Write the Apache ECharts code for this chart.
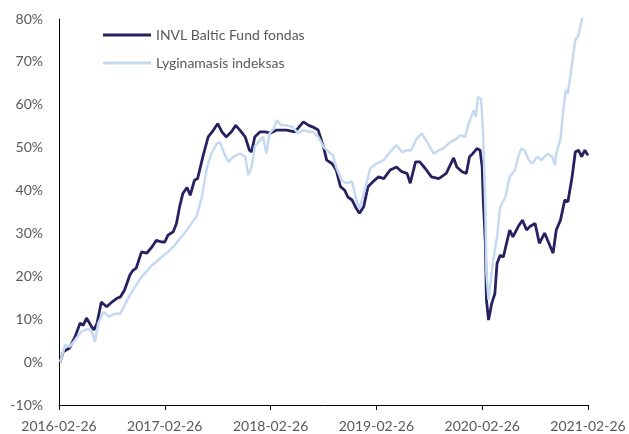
<!DOCTYPE html>
<html>
<head>
<meta charset="utf-8">
<script src="https://cdn.jsdelivr.net/npm/echarts@6/dist/echarts.min.js"></script>
<style>
  html, body { margin: 0; padding: 0; background: #fff; }
  #chart { width: 629px; height: 434px; }
</style>
</head>
<body>
<div id="chart"></div>
<script>
// x = metai nuo 2016-02-26, y = grąža %
var fundYears = [0.01, 0.04, 0.10, 0.15, 0.20, 0.23, 0.26, 0.31, 0.33, 0.36, 0.40, 0.45, 0.50, 0.55, 0.58, 0.62, 0.67, 0.70, 0.73, 0.78, 0.83, 0.88, 0.92, 0.97, 1.00, 1.03, 1.08, 1.11, 1.14, 1.17, 1.21, 1.24, 1.28, 1.31, 1.36, 1.41, 1.46, 1.50, 1.54, 1.58, 1.63, 1.67, 1.71, 1.76, 1.80, 1.82, 1.85, 1.90, 1.95, 2.00, 2.06, 2.15, 2.23, 2.31, 2.36, 2.40, 2.45, 2.50, 2.53, 2.58, 2.62, 2.66, 2.70, 2.73, 2.77, 2.81, 2.84, 2.88, 2.92, 2.97, 3.02, 3.07, 3.13, 3.19, 3.24, 3.29, 3.32, 3.37, 3.41, 3.46, 3.52, 3.59, 3.66, 3.73, 3.76, 3.81, 3.85, 3.88, 3.91, 3.95, 3.98, 4.00, 4.01, 4.03, 4.04, 4.06, 4.09, 4.12, 4.14, 4.17, 4.20, 4.23, 4.26, 4.29, 4.34, 4.38, 4.42, 4.45, 4.50, 4.54, 4.59, 4.67, 4.70, 4.74, 4.78, 4.81, 4.85, 4.88, 4.91, 4.94, 4.97, 5.00]
var fundValues = [0, 2.4, 3.3, 5.8, 9.1, 8.6, 10.3, 8.2, 7.5, 9.1, 14.0, 12.9, 14.0, 14.9, 15.2, 16.8, 20.3, 21.4, 21.9, 25.7, 25.4, 26.9, 28.4, 28.0, 28.0, 29.6, 30.4, 32.3, 36.2, 39.3, 40.7, 38.9, 42.4, 42.8, 47.9, 52.5, 54.1, 55.6, 53.7, 52.5, 53.7, 55.2, 54.1, 52.5, 49.4, 49.0, 52.5, 53.7, 53.7, 53.4, 54.1, 54.1, 53.7, 56.0, 55.2, 54.8, 54.1, 50.2, 47.1, 46.3, 44.8, 40.9, 40.1, 38.5, 37.8, 35.8, 34.7, 36.2, 40.9, 42.1, 43.2, 42.8, 44.8, 45.5, 44.4, 44.0, 41.7, 46.7, 46.7, 45.2, 43.2, 42.8, 44.0, 47.6, 45.5, 44.4, 44.0, 47.9, 48.6, 49.8, 49.4, 45.5, 37.8, 27.7, 14.5, 9.8, 13.7, 16.0, 23.0, 24.9, 24.5, 27.7, 30.8, 29.2, 31.6, 33.1, 30.8, 31.6, 32.3, 27.7, 30.1, 25.4, 30.8, 33.1, 37.8, 37.4, 43.2, 49.0, 49.4, 47.9, 49.4, 48.2]

var indexYears = [0.01, 0.06, 0.10, 0.15, 0.21, 0.28, 0.31, 0.34, 0.37, 0.42, 0.47, 0.53, 0.58, 0.62, 0.67, 0.72, 0.77, 0.81, 0.88, 0.92, 0.97, 1.03, 1.08, 1.13, 1.17, 1.21, 1.25, 1.30, 1.35, 1.40, 1.44, 1.49, 1.52, 1.57, 1.60, 1.65, 1.71, 1.76, 1.79, 1.82, 1.85, 1.90, 1.93, 1.96, 1.99, 2.03, 2.06, 2.10, 2.15, 2.21, 2.26, 2.31, 2.36, 2.40, 2.45, 2.50, 2.55, 2.59, 2.62, 2.67, 2.72, 2.77, 2.81, 2.84, 2.89, 2.94, 3.00, 3.07, 3.13, 3.19, 3.24, 3.29, 3.33, 3.38, 3.43, 3.48, 3.54, 3.59, 3.63, 3.70, 3.76, 3.79, 3.84, 3.87, 3.92, 3.94, 3.96, 3.99, 4.01, 4.03, 4.04, 4.06, 4.10, 4.14, 4.17, 4.22, 4.26, 4.31, 4.34, 4.37, 4.40, 4.44, 4.47, 4.52, 4.56, 4.59, 4.62, 4.66, 4.69, 4.70, 4.74, 4.77, 4.79, 4.81, 4.85, 4.88, 4.91, 4.92, 4.94, 4.96]
var indexValues = [0, 4.0, 3.6, 5.1, 7.1, 7.8, 7.1, 4.7, 9.0, 11.7, 10.6, 11.3, 11.3, 13.3, 15.6, 17.6, 19.5, 20.7, 22.6, 23.4, 24.5, 25.7, 26.9, 28.4, 29.6, 30.8, 32.3, 33.9, 38.5, 45.5, 48.6, 50.9, 51.3, 48.2, 46.7, 47.9, 48.6, 47.9, 43.6, 45.5, 50.2, 51.7, 52.5, 48.6, 53.3, 54.5, 56.4, 55.2, 55.2, 54.8, 53.3, 54.1, 53.7, 53.7, 52.5, 50.2, 49.0, 48.2, 45.5, 42.4, 41.7, 42.1, 37.8, 35.8, 40.1, 45.1, 46.3, 47.1, 49.0, 50.6, 49.0, 49.4, 49.4, 52.1, 53.3, 51.3, 48.6, 49.4, 49.8, 51.3, 52.1, 52.9, 52.5, 55.5, 58.7, 57.2, 61.8, 61.4, 52.5, 35.4, 20.7, 14.5, 23.0, 29.2, 36.2, 38.5, 43.2, 44.8, 47.9, 49.8, 49.4, 47.1, 46.3, 47.9, 47.1, 47.9, 48.6, 47.9, 45.9, 48.6, 52.1, 59.5, 63.4, 62.6, 69.7, 75.1, 76.2, 75.8, 79.7, 82.0]

function pairs (xs, ys) {
  var out = []
  for (var i = 0; i < xs.length; i++) {
    out.push([xs[i], ys[i]])
  }
  return out
}

var chart = echarts.init(document.getElementById('chart'))
chart.setOption({
  animation: false,
  textStyle: { fontFamily: 'Lato' },
  legend: {
    orient: 'vertical',
    left: 98,
    top: 22,
    icon: 'rect',
    itemWidth: 48,
    itemHeight: 3,
    itemGap: 12,
    textStyle: { color: '#595959', fontSize: 14, lineHeight: 16 },
    data: ['INVL Baltic Fund fondas', 'Lyginamasis indeksas']
  },
  grid: { left: 59, right: 41, top: 19, bottom: 29 },
  xAxis: {
    type: 'value',
    min: 0,
    max: 5,
    interval: 1,
    splitLine: { show: false },
    axisLine: { onZero: false, lineStyle: { color: '#000', width: 1 } },
    axisTick: { show: true, length: 5, lineStyle: { color: '#000' } },
    axisLabel: {
      color: '#595959',
      fontSize: 14,
      margin: 14,
      formatter: function (v) { return (2016 + v) + '-02-26' }
    }
  },
  yAxis: {
    type: 'value',
    min: -10,
    max: 80,
    interval: 10,
    splitLine: { show: false },
    axisLine: { show: true, lineStyle: { color: '#000', width: 1 } },
    axisTick: { show: false },
    axisLabel: {
      color: '#595959',
      fontSize: 14,
      margin: 16,
      formatter: function (v) { return v + '%' }
    }
  },
  series: [
    {
      name: 'INVL Baltic Fund fondas',
      type: 'line',
      symbol: 'none',
      data: pairs(fundYears, fundValues),
      lineStyle: { color: '#262261', width: 2.8 },
      itemStyle: { color: '#262261' }
    },
    {
      name: 'Lyginamasis indeksas',
      type: 'line',
      symbol: 'none',
      data: pairs(indexYears, indexValues),
      lineStyle: { color: '#c5d9f1', width: 2.5 },
      itemStyle: { color: '#c5d9f1' }
    }
  ]
})
</script>
</body>
</html>
